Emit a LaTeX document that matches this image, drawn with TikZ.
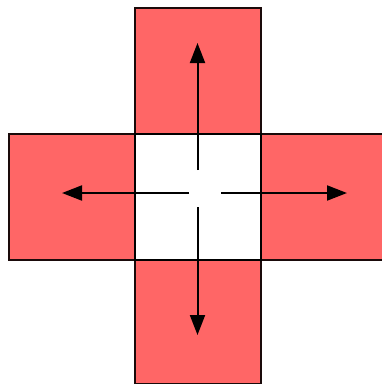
\documentclass[tikz,border=0pt]{standalone}
\usetikzlibrary{arrows.meta}
\definecolor{sqred}{HTML}{FF6666}
\definecolor{sqedge}{HTML}{1A0A0A}
\begin{document}
\begin{tikzpicture}[x=1pt,y=-1pt,
  redsq/.style={draw=sqedge,fill=sqred,line width=2pt,minimum size=126pt,inner sep=0pt,outer sep=0pt},
  whitesq/.style={draw=black,fill=white,line width=2pt,minimum size=126pt,inner sep=0pt,outer sep=0pt},
  arr/.style={line width=2pt,-{Triangle[length=20pt,width=15pt]}}]
\useasboundingbox (0,0) rectangle (382,384);
\clip (0,0) rectangle (382,384);
\node[redsq] (t) at (197.5,70.5) {};
\node[redsq] (b) at (197.5,321) {};
\node[redsq] (l) at (71.5,196.5) {};
\node[redsq] (r) at (323.5,196.5) {};
\node[whitesq] (c) at (197.5,196.5) {};
\coordinate (su) at (197.5,170);
\coordinate (sd) at (197.5,207);
\coordinate (sl) at (189,193);
\coordinate (sr) at (221,193);
\coordinate (eu) at (197.5,43);
\coordinate (ed) at (197.5,335);
\coordinate (el) at (62,193);
\coordinate (er) at (347,193);
\draw[arr] (su) -- (eu);
\draw[arr] (sd) -- (ed);
\draw[arr] (sl) -- (el);
\draw[arr] (sr) -- (er);
\end{tikzpicture}
\end{document}
